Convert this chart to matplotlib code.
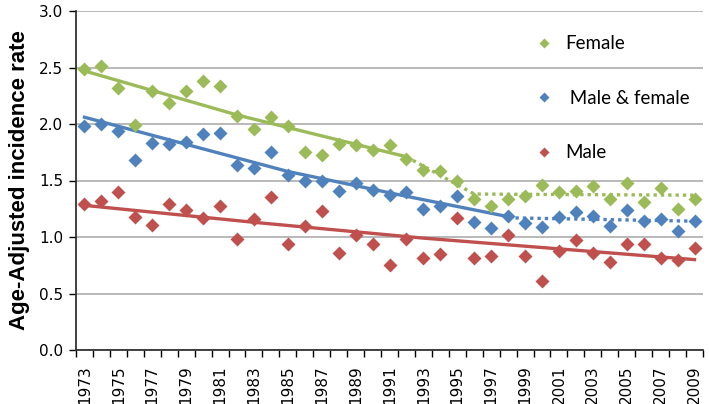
import numpy as np
import matplotlib.pyplot as plt
from matplotlib.ticker import FixedLocator, MultipleLocator

# data
years = list(range(1973, 2010))
female = [2.49, 2.51, 2.32, 1.99, 2.29, 2.19, 2.29, 2.38, 2.34, 2.07,
          1.96, 2.06, 1.98, 1.75, 1.73, 1.82, 1.81, 1.77, 1.81, 1.69,
          1.59, 1.58, 1.50, 1.34, 1.27, 1.34, 1.36, 1.46, 1.40, 1.41,
          1.45, 1.34, 1.48, 1.31, 1.43, 1.25, 1.34]
both = [1.98, 2.00, 1.94, 1.68, 1.83, 1.82, 1.84, 1.91, 1.92, 1.64,
        1.61, 1.75, 1.55, 1.50, 1.50, 1.41, 1.48, 1.42, 1.37, 1.40,
        1.25, 1.27, 1.36, 1.13, 1.08, 1.19, 1.12, 1.09, 1.18, 1.22,
        1.19, 1.10, 1.24, 1.14, 1.16, 1.05, 1.14]
male = [1.29, 1.32, 1.40, 1.18, 1.11, 1.29, 1.24, 1.17, 1.27, 0.98,
        1.16, 1.35, 0.94, 1.10, 1.23, 0.86, 1.02, 0.94, 0.75, 0.98,
        0.81, 0.85, 1.17, 0.81, 0.83, 1.02, 0.83, 0.61, 0.88, 0.97,
        0.86, 0.78, 0.94, 0.94, 0.81, 0.80, 0.90]

# trend lines (joinpoints)
f_trend_yr = [1973, 1982, 1992]
f_trend = [2.47, 2.08, 1.71]
f_dot_yr = [1992, 1996, 2009]
f_dot = [1.71, 1.38, 1.37]
b_trend_yr = [1973, 1985, 1992, 1998]
b_trend = [2.06, 1.58, 1.36, 1.18]
b_dot_yr = [1998, 2009]
b_dot = [1.17, 1.14]
m_trend_yr = [1973, 1983, 1993, 2009]
m_trend = [1.28, 1.13, 0.99, 0.80]

c_f = '#9BBB59'
c_b = '#4F81BD'
c_m = '#C0504D'

def pos(yrs):
    return np.array(yrs) - years[0]

fig = plt.figure(figsize=(7.09, 4.04), dpi=100)
ax = fig.add_axes([76/709, 54/404, 627/709, 339/404])

x = pos(years)
ax.plot(pos(f_trend_yr), f_trend, color=c_f, lw=2.4, zorder=3)
ax.plot(pos(f_dot_yr), f_dot, color=c_f, lw=2.4, ls=(0, (1, 1.2)), zorder=3)
ax.plot(pos(b_trend_yr), b_trend, color=c_b, lw=2.4, zorder=3)
ax.plot(pos(b_dot_yr), b_dot, color=c_b, lw=2.4, ls=(0, (1, 1.2)), zorder=3)
ax.plot(pos(m_trend_yr), m_trend, color=c_m, lw=2.4, zorder=3)

ax.plot(x, female, 'D', color=c_f, ms=7, mec='none', zorder=4, label='Female')
ax.plot(x, both, 'D', color=c_b, ms=7, mec='none', zorder=4, label=' Male & female')
ax.plot(x, male, 'D', color=c_m, ms=7, mec='none', zorder=4, label='Male')

ax.set_xlim(-0.5, len(years) - 0.5)
ax.set_ylim(0, 3.0)
ax.yaxis.set_major_locator(MultipleLocator(0.5))
ax.yaxis.set_major_formatter(plt.FuncFormatter(lambda v, p: f'{v:.1f}'))
ax.grid(axis='y', color='#A6A6A6', lw=1.1)
ax.set_axisbelow(True)

odd = [i for i, y in enumerate(years) if y % 2 == 1]
ax.xaxis.set_major_locator(FixedLocator(odd))
ax.set_xticklabels([str(years[i]) for i in odd], rotation=90)
ax.xaxis.set_minor_locator(FixedLocator(np.arange(-0.5, len(years), 1.0)))
ax.tick_params(axis='x', which='major', length=0, pad=11, labelsize=11)
ax.tick_params(axis='x', which='minor', length=5, width=1, direction='out')
ax.tick_params(axis='y', length=5, width=1, labelsize=11, pad=4)

for s in ['top', 'right']:
    ax.spines[s].set_visible(False)
for s in ['left', 'bottom']:
    ax.spines[s].set_linewidth(1.3)
    ax.spines[s].set_color('#333333')

ax.set_ylabel('Age-Adjusted incidence rate', fontsize=16, fontweight='bold',
              family='Liberation Sans', labelpad=7)

ax.legend(loc='upper left', bbox_to_anchor=(0.705, 0.978), frameon=False,
          prop={'family': 'Lato', 'size': 13.5}, labelspacing=2.0,
          handletextpad=0.6, markerscale=0.75, handlelength=1.0)

fig.savefig('out.png', dpi=100)
